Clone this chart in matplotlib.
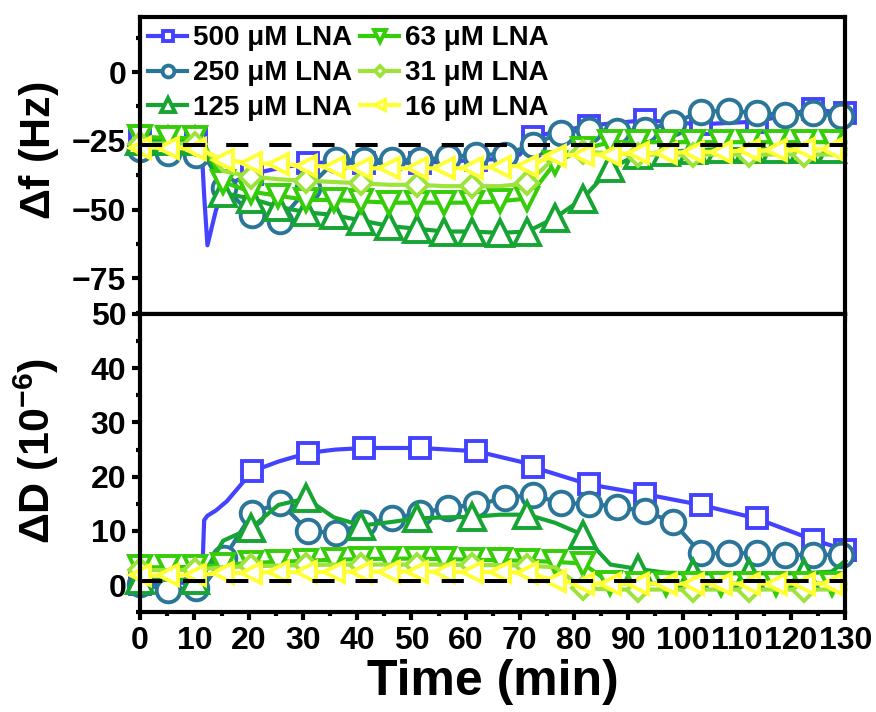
import matplotlib
matplotlib.use("Agg")
import matplotlib.pyplot as plt
from matplotlib.ticker import MultipleLocator

plt.rcParams['font.family'] = ['Liberation Sans', 'DejaVu Sans']
plt.rcParams['font.weight'] = 'bold'
plt.rcParams['mathtext.fontset'] = 'custom'
plt.rcParams['mathtext.rm'] = 'Liberation Sans'
plt.rcParams['mathtext.bf'] = 'Liberation Sans:bold'

# time grids (min)
t_500 = [0, 10.33, 11.4, 11.8, 12.4, 14.0, 16.0, 20.67, 25.5, 31.0, 36.0, 41.33,
         51.67, 62.0, 67.0, 70.0, 72.33, 82.67, 93.0, 103.33, 113.67, 124.0, 130.0]
t_250 = [0, 5.17, 10.33, 12.0, 15.5, 20.67, 25.83, 31.0, 36.17, 41.33, 46.5, 51.67,
         56.83, 62.0, 67.17, 72.33, 77.5, 82.67, 87.83, 93.0, 98.17, 103.33, 108.5,
         113.67, 118.83, 124.0, 129.17]
t_low = [0, 5.1, 10.2, 12.0, 15.3, 20.4, 25.5, 30.6, 35.7, 40.8, 45.9, 51.0, 56.1,
         61.2, 66.3, 71.4, 76.5, 81.6, 86.7, 91.8, 96.9, 102.0, 107.1, 112.2, 117.3,
         122.4, 127.5, 130.0]

# frequency shift (Hz)
f_500 = [-24, -24, -30, -45, -63, -50, -41, -37, -35, -33, -33, -33, -33, -32, -31.5,
         -30, -23.5, -19.5, -17.5, -19, -18, -13.5, -15]
f_250 = [-28, -29.5, -30, -31, -42, -52, -54, -42, -32, -32, -32, -32, -31, -30, -30,
         -26.5, -22, -21, -21.5, -21, -18.5, -14.5, -14, -15, -15.5, -15, -16]
f_125 = [-25, -25, -25, -28, -44, -46, -49, -51, -52, -54, -56, -57, -58, -58, -58.5,
         -58, -53, -46, -35, -30, -29, -28.5, -28, -28, -28, -28, -28, -28]
f_63 = [-23.5, -24, -24, -27, -40, -43.5, -45, -46.5, -46.5, -47, -47.5, -47.5, -47.5,
        -47.5, -47, -46, -33, -28, -25.5, -25.5, -25.5, -25.5, -25.5, -25.5, -25.5,
        -25.5, -25.5, -25.5]
f_31 = [-26, -26, -26, -28, -36, -38, -39, -39.5, -40, -40.5, -41, -41, -41.5, -41.5,
        -41.5, -40.5, -31, -29, -29.5, -30, -30, -30, -30, -30, -30, -30, -30, -30]
f_16 = [-27.5, -27.5, -28, -29, -32, -33, -33.5, -34, -34.5, -35, -35, -35, -35, -35,
        -34.5, -34, -30.5, -30, -30, -29.5, -29.5, -29, -29, -28.5, -28.5, -28, -28, -28]

# dissipation shift (1e-6)
d_500 = [0.3, 0.5, 0.8, 12.0, 12.8, 13.8, 15.5, 21.0, 22.8, 24.4, 25.0, 25.3, 25.3,
         24.7, 23.5, 22.8, 21.8, 18.6, 16.8, 14.8, 12.3, 8.4, 6.5]
d_250 = [0.2, -0.8, -0.5, 0.3, 5.0, 13.3, 15.2, 10.0, 9.6, 11.4, 12.3, 13.3, 14.3, 14.9,
         16.0, 16.7, 15.1, 15.0, 14.5, 13.6, 11.7, 5.9, 5.9, 5.9, 5.6, 5.6, 5.6]
d_125 = [1.0, 1.0, 1.0, 2.5, 8.2, 10.5, 14.8, 16.0, 12.5, 11.0, 11.6, 12.3, 12.5, 12.6,
         13.0, 13.0, 11.5, 9.3, 3.8, 3.0, 2.3, 2.2, 2.2, 2.2, 2.2, 2.2, 2.5, 4.5]
d_63 = [3.3, 3.3, 3.4, 3.5, 3.8, 4.1, 4.3, 4.5, 4.7, 4.8, 4.9, 4.9, 4.8, 4.7, 4.6, 4.5,
        4.3, 4.0, 0.4, 0.3, 0.3, 0.3, 0.3, 0.3, 0.3, 0.3, 0.3, 0.3]
d_31 = [2.8, 2.8, 2.8, 3.0, 3.3, 3.5, 3.6, 3.7, 3.8, 3.8, 3.8, 3.8, 3.8, 3.7, 3.7, 3.6,
        3.3, -0.5, -0.8, -0.8, -0.8, -0.8, -0.8, -0.8, -0.8, -0.8, -0.8, -0.8]
d_16 = [1.8, 1.8, 1.9, 2.0, 2.2, 2.3, 2.4, 2.4, 2.5, 2.5, 2.5, 2.5, 2.5, 2.4, 2.4, 2.3,
        0.8, 0.3, 0.3, 0.3, 0.3, 0.3, 0.3, 0.3, 0.3, 0.3, 0.3, 0.3]

f_base = -26.5
d_base = 0.8


def on_grid(t, step, every=1):
    idx = []
    for i, v in enumerate(t):
        k = v / step
        if abs(k - round(k)) < 0.01 and round(k) % every == 0:
            idx.append(i)
    return idx


# (label, t, f, d, color, marker, size, markers top, markers bottom)
series = [
    ('500 μM LNA', t_500, f_500, d_500, '#4343ff', 's', 15,
     on_grid(t_500, 10.333) + [len(t_500) - 1], on_grid(t_500, 10.333) + [len(t_500) - 1]),
    ('250 μM LNA', t_250, f_250, d_250, '#2b7599', 'o', 17,
     on_grid(t_250, 5.1667), on_grid(t_250, 5.1667)),
    ('125 μM LNA', t_low, f_125, d_125, '#16a533', '^', 19,
     on_grid(t_low, 5.1), on_grid(t_low, 5.1, 2)),
    ('63 μM LNA', t_low, f_63, d_63, '#35cc08', 'v', 16,
     on_grid(t_low, 5.1), on_grid(t_low, 5.1)),
    ('31 μM LNA', t_low, f_31, d_31, '#9de33a', 'D', 11,
     on_grid(t_low, 5.1, 2), on_grid(t_low, 5.1, 2)),
    ('16 μM LNA', t_low, f_16, d_16, '#ffff33', '<', 14,
     on_grid(t_low, 5.1), on_grid(t_low, 5.1)),
]

fig = plt.figure(figsize=(8.76, 7.12), dpi=100)
ax1 = fig.add_axes([0.160, 0.559, 0.805, 0.417])
ax2 = fig.add_axes([0.160, 0.140, 0.805, 0.419], sharex=ax1)

handles = []
for label, t, f, d, c, m, ms, mk1, mk2 in series:
    style = dict(color=c, lw=3.0, marker=m, ms=ms, mfc='white', mec=c, mew=2.8,
                 clip_on=False)
    h, = ax1.plot(t, f, markevery=mk1, label=label, **style)
    ax2.plot(t, d, markevery=mk2, **style)
    handles.append(h)

ax1.axhline(f_base, color='black', lw=2.9, dashes=(5.5, 5.2), zorder=5)
ax2.axhline(d_base, color='black', lw=2.9, dashes=(5.5, 5.2), zorder=5)

ax1.set_xlim(0, 130)
ax1.set_ylim(-88, 20)
ax2.set_ylim(-5, 50)

ax1.yaxis.set_major_locator(MultipleLocator(25))
ax1.yaxis.set_minor_locator(MultipleLocator(12.5))
ax2.yaxis.set_major_locator(MultipleLocator(10))
ax2.yaxis.set_minor_locator(MultipleLocator(5))
ax2.xaxis.set_major_locator(MultipleLocator(10))
ax2.xaxis.set_minor_locator(MultipleLocator(5))

for ax in (ax1, ax2):
    for s in ax.spines.values():
        s.set_linewidth(3)
        s.set_zorder(10)
    ax.tick_params(which='major', direction='out', length=6, width=3, labelsize=23,
                   pad=4, top=False, right=False)
    ax.tick_params(which='minor', direction='out', length=3, width=3,
                   top=False, right=False)
    for lab in ax.get_yticklabels() + ax.get_xticklabels():
        lab.set_fontweight('bold')

ax1.tick_params(axis='x', which='both', labelbottom=False)
ax1.tick_params(axis='x', which='minor', length=0)

ax1.set_ylabel(r'$\Delta$f (Hz)', fontsize=31, fontweight='bold')
ax2.set_ylabel(r'$\Delta$D (10$^{\mathbf{-6}}$)', fontsize=31, fontweight='bold')
ax1.yaxis.set_label_coords(-0.112, 0.55)
ax2.yaxis.set_label_coords(-0.112, 0.54)
ax2.set_xlabel('Time (min)', fontsize=36, fontweight='bold', labelpad=2)

ax1.legend(handles=handles, ncol=2, loc='upper left', bbox_to_anchor=(0.0, 1.0),
           frameon=False, prop={'size': 20, 'weight': 'bold'}, handlelength=1.4,
           handletextpad=0.2, columnspacing=0.3, labelspacing=0.32,
           borderaxespad=0.15, borderpad=0.15, markerscale=0.5)

fig.savefig('out.png', dpi=100)
